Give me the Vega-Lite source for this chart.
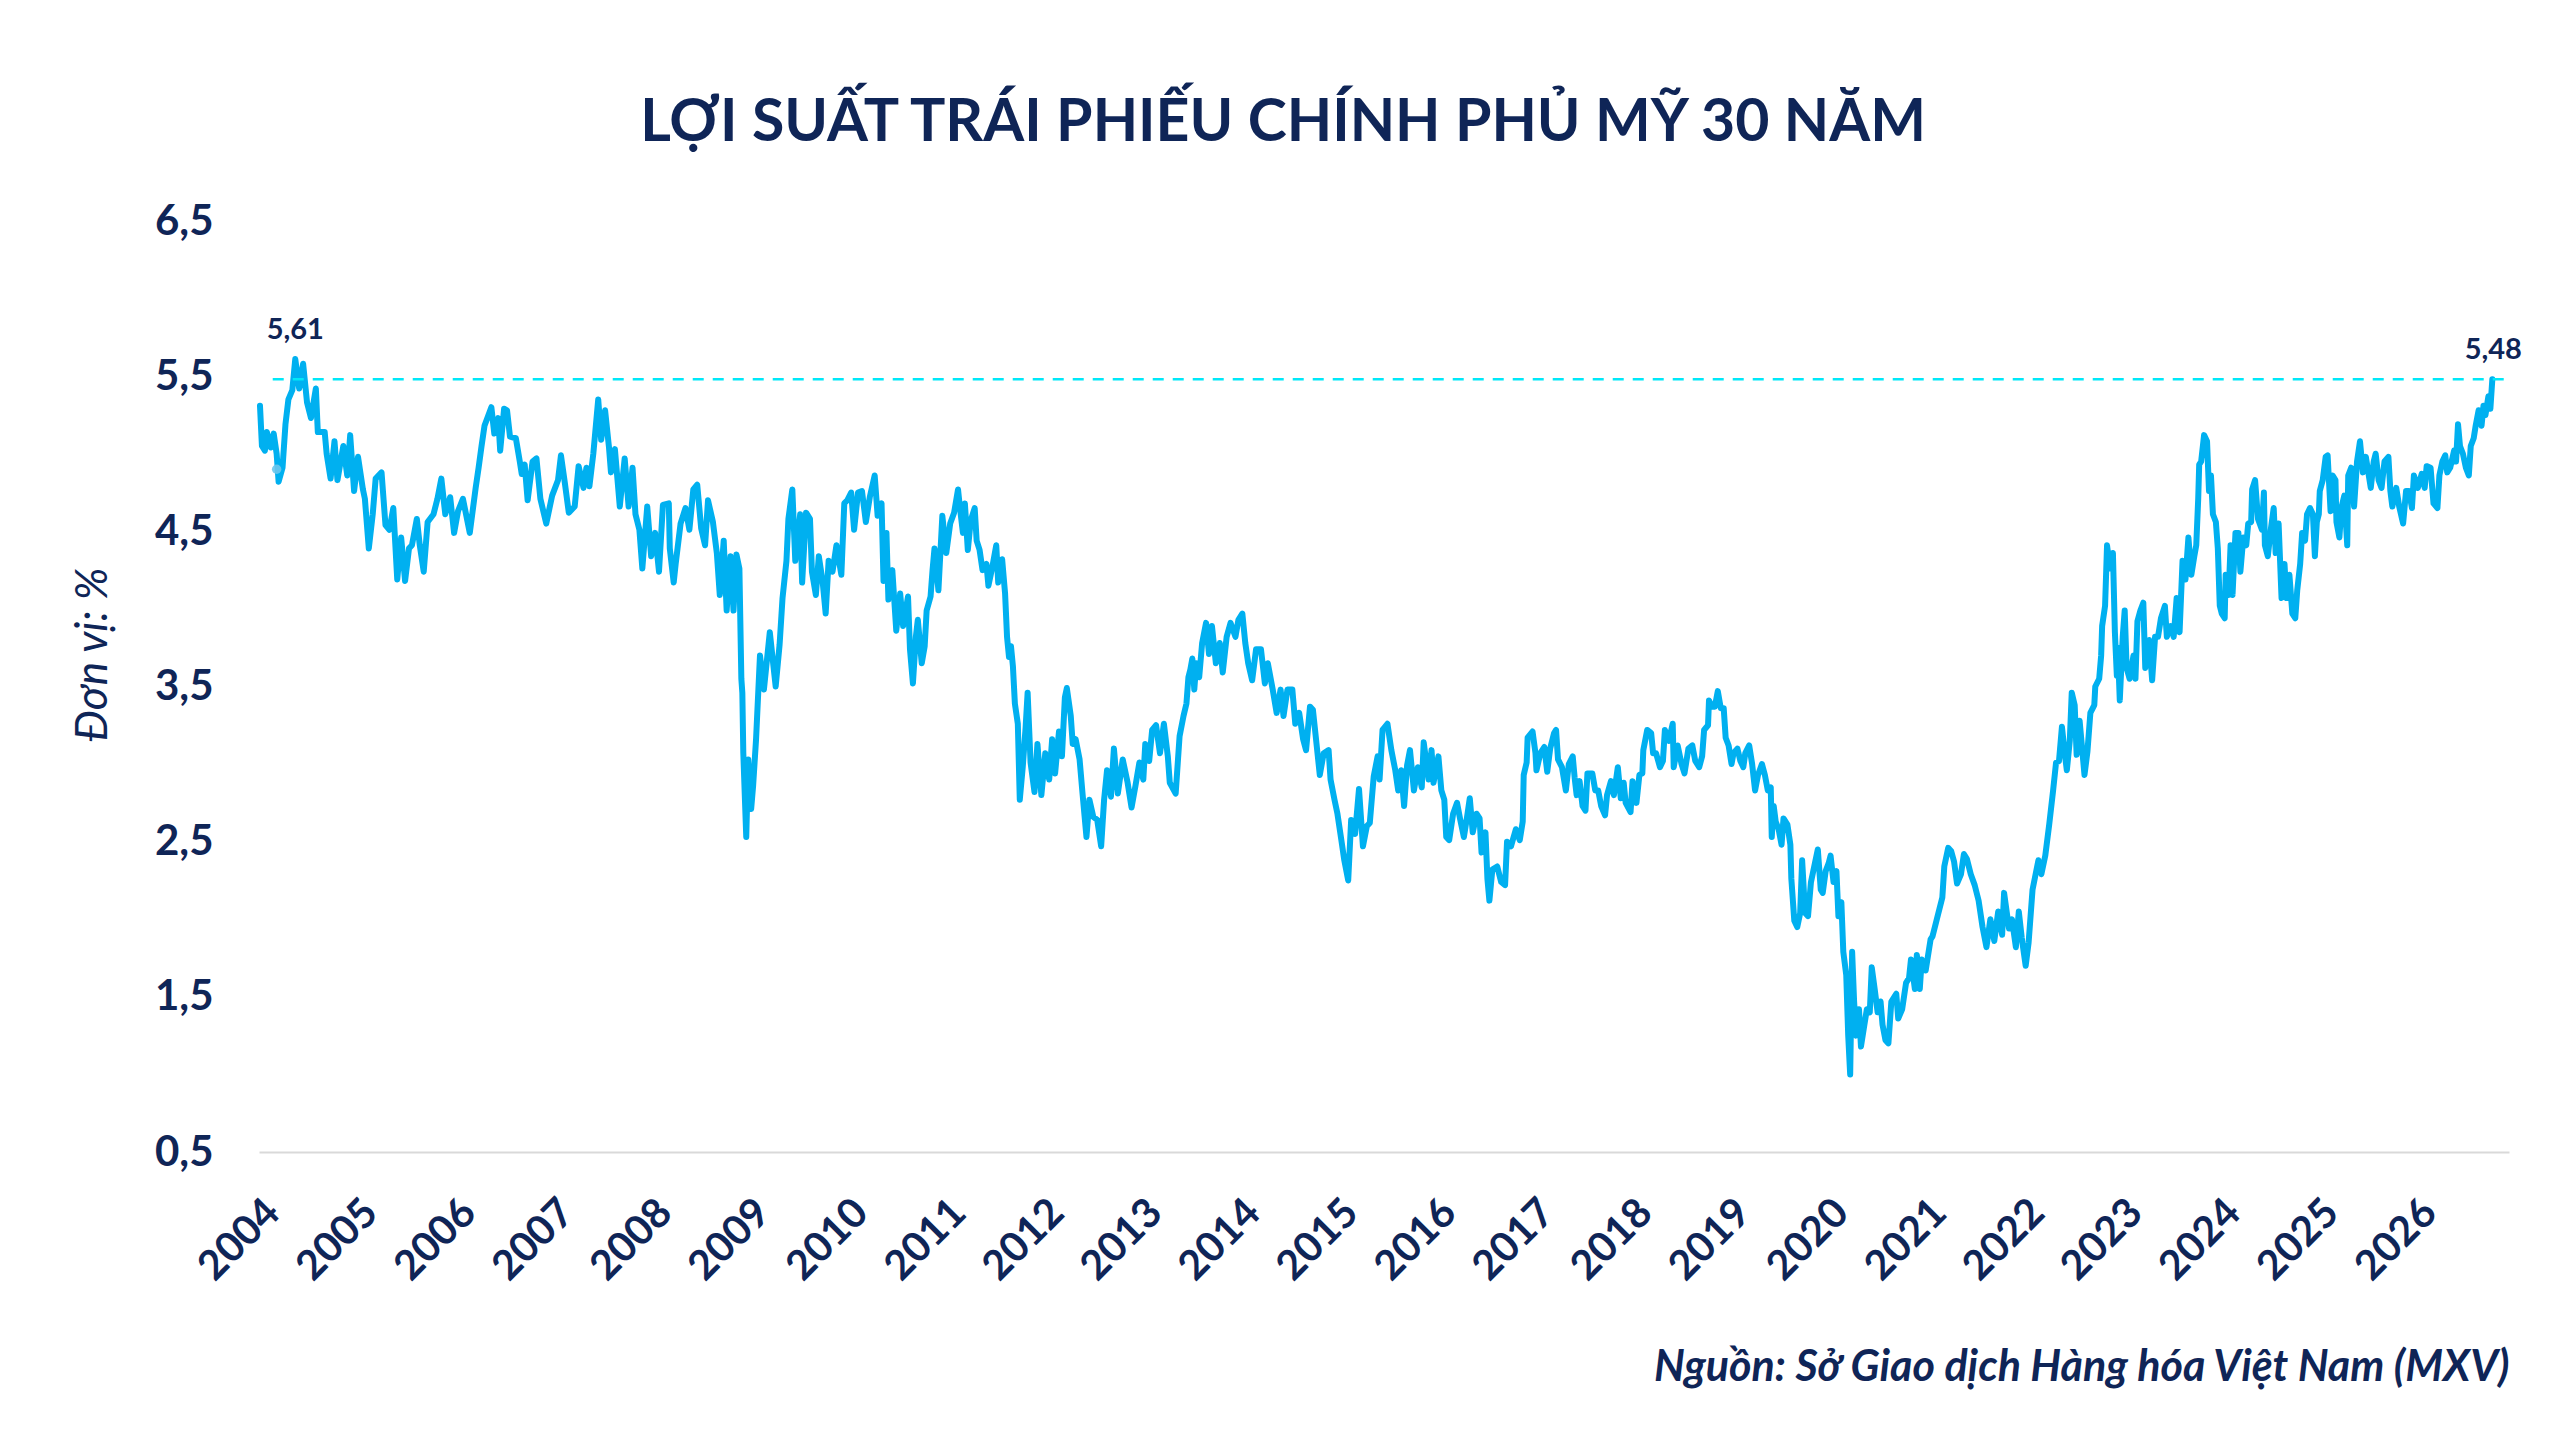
{
  "$schema": "https://vega.github.io/schema/vega-lite/v6.json",
  "width": 2250,
  "height": 931,
  "autosize": {"type": "none"},
  "padding": {"left": 259, "top": 221, "right": 50, "bottom": 288},
  "background": "white",
  "config": {"font": "Lato", "view": {"stroke": null}},
  "title": {
    "text": "LỢI SUẤT TRÁI PHIẾU CHÍNH PHỦ MỸ 30 NĂM",
    "fontSize": 59,
    "fontWeight": "bold",
    "color": "#0f2557",
    "anchor": "middle",
    "dx": -101,
    "offset": 47
  },
  "datasets": {
    "series": [
      {"t": 2004.01, "v": 5.31}, {"t": 2004.03, "v": 5.05}, {"t": 2004.06, "v": 5.02}, {"t": 2004.08, "v": 5.14}, {"t": 2004.12, "v": 5.04},
      {"t": 2004.15, "v": 5.13}, {"t": 2004.18, "v": 5.0}, {"t": 2004.2, "v": 4.82}, {"t": 2004.24, "v": 4.91}, {"t": 2004.27, "v": 5.19},
      {"t": 2004.3, "v": 5.35}, {"t": 2004.34, "v": 5.41}, {"t": 2004.37, "v": 5.61}, {"t": 2004.41, "v": 5.42}, {"t": 2004.45, "v": 5.58},
      {"t": 2004.49, "v": 5.33}, {"t": 2004.53, "v": 5.23}, {"t": 2004.58, "v": 5.42}, {"t": 2004.6, "v": 5.14}, {"t": 2004.67, "v": 5.14},
      {"t": 2004.69, "v": 5.0}, {"t": 2004.73, "v": 4.84}, {"t": 2004.77, "v": 5.08}, {"t": 2004.8, "v": 4.83}, {"t": 2004.86, "v": 5.05},
      {"t": 2004.9, "v": 4.86}, {"t": 2004.93, "v": 5.12}, {"t": 2004.97, "v": 4.76}, {"t": 2005.01, "v": 4.98}, {"t": 2005.06, "v": 4.77},
      {"t": 2005.08, "v": 4.71}, {"t": 2005.12, "v": 4.39}, {"t": 2005.16, "v": 4.61}, {"t": 2005.19, "v": 4.84}, {"t": 2005.25, "v": 4.88},
      {"t": 2005.29, "v": 4.54}, {"t": 2005.33, "v": 4.51}, {"t": 2005.37, "v": 4.65}, {"t": 2005.41, "v": 4.19}, {"t": 2005.45, "v": 4.46},
      {"t": 2005.49, "v": 4.18}, {"t": 2005.53, "v": 4.39}, {"t": 2005.56, "v": 4.41}, {"t": 2005.61, "v": 4.58}, {"t": 2005.64, "v": 4.41},
      {"t": 2005.68, "v": 4.24}, {"t": 2005.72, "v": 4.56}, {"t": 2005.78, "v": 4.61}, {"t": 2005.82, "v": 4.71}, {"t": 2005.86, "v": 4.84},
      {"t": 2005.9, "v": 4.61}, {"t": 2005.95, "v": 4.72}, {"t": 2005.99, "v": 4.49}, {"t": 2006.03, "v": 4.63}, {"t": 2006.08, "v": 4.71},
      {"t": 2006.15, "v": 4.49}, {"t": 2006.21, "v": 4.78}, {"t": 2006.24, "v": 4.91}, {"t": 2006.27, "v": 5.05}, {"t": 2006.3, "v": 5.18},
      {"t": 2006.37, "v": 5.3}, {"t": 2006.4, "v": 5.13}, {"t": 2006.44, "v": 5.23}, {"t": 2006.46, "v": 5.02}, {"t": 2006.5, "v": 5.29},
      {"t": 2006.53, "v": 5.28}, {"t": 2006.56, "v": 5.11}, {"t": 2006.62, "v": 5.1}, {"t": 2006.66, "v": 4.95}, {"t": 2006.68, "v": 4.87},
      {"t": 2006.71, "v": 4.93}, {"t": 2006.74, "v": 4.7}, {"t": 2006.79, "v": 4.95}, {"t": 2006.83, "v": 4.97}, {"t": 2006.87, "v": 4.71},
      {"t": 2006.93, "v": 4.55}, {"t": 2006.99, "v": 4.73}, {"t": 2007.05, "v": 4.83}, {"t": 2007.08, "v": 4.99}, {"t": 2007.12, "v": 4.81},
      {"t": 2007.16, "v": 4.62}, {"t": 2007.22, "v": 4.66}, {"t": 2007.26, "v": 4.92}, {"t": 2007.31, "v": 4.78}, {"t": 2007.34, "v": 4.91},
      {"t": 2007.37, "v": 4.79}, {"t": 2007.41, "v": 5.0}, {"t": 2007.46, "v": 5.35}, {"t": 2007.49, "v": 5.09}, {"t": 2007.53, "v": 5.28},
      {"t": 2007.57, "v": 5.04}, {"t": 2007.59, "v": 4.88}, {"t": 2007.63, "v": 5.03}, {"t": 2007.68, "v": 4.66}, {"t": 2007.73, "v": 4.97},
      {"t": 2007.77, "v": 4.66}, {"t": 2007.81, "v": 4.91}, {"t": 2007.84, "v": 4.61}, {"t": 2007.88, "v": 4.51}, {"t": 2007.91, "v": 4.26},
      {"t": 2007.96, "v": 4.66}, {"t": 2008.0, "v": 4.34}, {"t": 2008.04, "v": 4.49}, {"t": 2008.08, "v": 4.24}, {"t": 2008.12, "v": 4.67},
      {"t": 2008.18, "v": 4.68}, {"t": 2008.19, "v": 4.39}, {"t": 2008.23, "v": 4.17}, {"t": 2008.25, "v": 4.29}, {"t": 2008.3, "v": 4.55},
      {"t": 2008.35, "v": 4.65}, {"t": 2008.39, "v": 4.51}, {"t": 2008.43, "v": 4.77}, {"t": 2008.47, "v": 4.8}, {"t": 2008.51, "v": 4.52},
      {"t": 2008.55, "v": 4.41}, {"t": 2008.58, "v": 4.7}, {"t": 2008.63, "v": 4.56}, {"t": 2008.67, "v": 4.36}, {"t": 2008.7, "v": 4.09},
      {"t": 2008.74, "v": 4.44}, {"t": 2008.77, "v": 3.99}, {"t": 2008.81, "v": 4.34}, {"t": 2008.84, "v": 3.99}, {"t": 2008.87, "v": 4.35},
      {"t": 2008.9, "v": 4.26}, {"t": 2008.92, "v": 3.55}, {"t": 2008.93, "v": 3.46}, {"t": 2008.94, "v": 3.07}, {"t": 2008.97, "v": 2.53},
      {"t": 2008.99, "v": 3.03}, {"t": 2009.02, "v": 2.71}, {"t": 2009.04, "v": 2.86}, {"t": 2009.07, "v": 3.16}, {"t": 2009.11, "v": 3.7},
      {"t": 2009.15, "v": 3.48}, {"t": 2009.21, "v": 3.85}, {"t": 2009.27, "v": 3.5}, {"t": 2009.31, "v": 3.77}, {"t": 2009.34, "v": 4.07},
      {"t": 2009.38, "v": 4.31}, {"t": 2009.4, "v": 4.58}, {"t": 2009.44, "v": 4.77}, {"t": 2009.47, "v": 4.31}, {"t": 2009.52, "v": 4.61},
      {"t": 2009.54, "v": 4.17}, {"t": 2009.58, "v": 4.62}, {"t": 2009.62, "v": 4.58}, {"t": 2009.64, "v": 4.24}, {"t": 2009.68, "v": 4.09},
      {"t": 2009.71, "v": 4.34}, {"t": 2009.75, "v": 4.17}, {"t": 2009.78, "v": 3.97}, {"t": 2009.81, "v": 4.31}, {"t": 2009.85, "v": 4.24},
      {"t": 2009.89, "v": 4.41}, {"t": 2009.94, "v": 4.22}, {"t": 2009.97, "v": 4.68}, {"t": 2010.0, "v": 4.7}, {"t": 2010.04, "v": 4.75},
      {"t": 2010.07, "v": 4.51}, {"t": 2010.11, "v": 4.75}, {"t": 2010.15, "v": 4.76}, {"t": 2010.19, "v": 4.56}, {"t": 2010.23, "v": 4.72},
      {"t": 2010.28, "v": 4.86}, {"t": 2010.31, "v": 4.6}, {"t": 2010.35, "v": 4.68}, {"t": 2010.37, "v": 4.18}, {"t": 2010.4, "v": 4.49},
      {"t": 2010.42, "v": 4.06}, {"t": 2010.46, "v": 4.25}, {"t": 2010.5, "v": 3.86}, {"t": 2010.54, "v": 4.1}, {"t": 2010.57, "v": 3.89},
      {"t": 2010.62, "v": 4.08}, {"t": 2010.64, "v": 3.74}, {"t": 2010.67, "v": 3.52}, {"t": 2010.7, "v": 3.82}, {"t": 2010.72, "v": 3.93},
      {"t": 2010.76, "v": 3.65}, {"t": 2010.79, "v": 3.76}, {"t": 2010.81, "v": 3.99}, {"t": 2010.85, "v": 4.08}, {"t": 2010.87, "v": 4.25},
      {"t": 2010.89, "v": 4.39}, {"t": 2010.93, "v": 4.12}, {"t": 2010.97, "v": 4.6}, {"t": 2011.01, "v": 4.36}, {"t": 2011.05, "v": 4.55},
      {"t": 2011.09, "v": 4.62}, {"t": 2011.13, "v": 4.77}, {"t": 2011.15, "v": 4.65}, {"t": 2011.18, "v": 4.49}, {"t": 2011.2, "v": 4.68},
      {"t": 2011.23, "v": 4.38}, {"t": 2011.26, "v": 4.57}, {"t": 2011.3, "v": 4.65}, {"t": 2011.32, "v": 4.44}, {"t": 2011.35, "v": 4.38},
      {"t": 2011.38, "v": 4.25}, {"t": 2011.42, "v": 4.29}, {"t": 2011.44, "v": 4.15}, {"t": 2011.48, "v": 4.27}, {"t": 2011.52, "v": 4.41},
      {"t": 2011.54, "v": 4.17}, {"t": 2011.58, "v": 4.32}, {"t": 2011.61, "v": 4.1}, {"t": 2011.63, "v": 3.82}, {"t": 2011.65, "v": 3.69},
      {"t": 2011.67, "v": 3.76}, {"t": 2011.69, "v": 3.63}, {"t": 2011.71, "v": 3.39}, {"t": 2011.74, "v": 3.26}, {"t": 2011.76, "v": 2.77},
      {"t": 2011.79, "v": 2.98}, {"t": 2011.82, "v": 3.24}, {"t": 2011.84, "v": 3.46}, {"t": 2011.87, "v": 3.01}, {"t": 2011.91, "v": 2.82},
      {"t": 2011.94, "v": 3.13}, {"t": 2011.98, "v": 2.8}, {"t": 2012.02, "v": 3.07}, {"t": 2012.06, "v": 2.9}, {"t": 2012.09, "v": 3.16},
      {"t": 2012.12, "v": 2.94}, {"t": 2012.16, "v": 3.21}, {"t": 2012.19, "v": 3.05}, {"t": 2012.22, "v": 3.43}, {"t": 2012.24, "v": 3.49},
      {"t": 2012.28, "v": 3.31}, {"t": 2012.3, "v": 3.13}, {"t": 2012.33, "v": 3.16}, {"t": 2012.37, "v": 3.03}, {"t": 2012.4, "v": 2.81},
      {"t": 2012.44, "v": 2.53}, {"t": 2012.47, "v": 2.77}, {"t": 2012.51, "v": 2.66}, {"t": 2012.55, "v": 2.64}, {"t": 2012.59, "v": 2.47},
      {"t": 2012.62, "v": 2.77}, {"t": 2012.65, "v": 2.96}, {"t": 2012.69, "v": 2.79}, {"t": 2012.72, "v": 3.1}, {"t": 2012.76, "v": 2.81},
      {"t": 2012.81, "v": 3.03}, {"t": 2012.86, "v": 2.88}, {"t": 2012.9, "v": 2.72}, {"t": 2012.94, "v": 2.86}, {"t": 2012.98, "v": 3.01},
      {"t": 2013.02, "v": 2.9}, {"t": 2013.04, "v": 3.13}, {"t": 2013.08, "v": 3.02}, {"t": 2013.11, "v": 3.22}, {"t": 2013.15, "v": 3.25},
      {"t": 2013.19, "v": 3.07}, {"t": 2013.23, "v": 3.26}, {"t": 2013.27, "v": 3.05}, {"t": 2013.29, "v": 2.88}, {"t": 2013.35, "v": 2.81},
      {"t": 2013.39, "v": 3.18}, {"t": 2013.43, "v": 3.31}, {"t": 2013.46, "v": 3.39}, {"t": 2013.48, "v": 3.56}, {"t": 2013.5, "v": 3.61},
      {"t": 2013.52, "v": 3.68}, {"t": 2013.54, "v": 3.48}, {"t": 2013.56, "v": 3.65}, {"t": 2013.59, "v": 3.56}, {"t": 2013.62, "v": 3.78},
      {"t": 2013.66, "v": 3.91}, {"t": 2013.69, "v": 3.71}, {"t": 2013.72, "v": 3.89}, {"t": 2013.76, "v": 3.65}, {"t": 2013.8, "v": 3.78},
      {"t": 2013.83, "v": 3.59}, {"t": 2013.87, "v": 3.82}, {"t": 2013.91, "v": 3.91}, {"t": 2013.96, "v": 3.82}, {"t": 2013.99, "v": 3.93},
      {"t": 2014.03, "v": 3.97}, {"t": 2014.06, "v": 3.78}, {"t": 2014.09, "v": 3.65}, {"t": 2014.13, "v": 3.54}, {"t": 2014.17, "v": 3.74},
      {"t": 2014.22, "v": 3.74}, {"t": 2014.26, "v": 3.52}, {"t": 2014.29, "v": 3.65}, {"t": 2014.34, "v": 3.48}, {"t": 2014.38, "v": 3.33},
      {"t": 2014.42, "v": 3.48}, {"t": 2014.45, "v": 3.31}, {"t": 2014.49, "v": 3.48}, {"t": 2014.54, "v": 3.48}, {"t": 2014.57, "v": 3.26},
      {"t": 2014.61, "v": 3.33}, {"t": 2014.65, "v": 3.16}, {"t": 2014.68, "v": 3.09}, {"t": 2014.72, "v": 3.37}, {"t": 2014.75, "v": 3.35},
      {"t": 2014.79, "v": 3.11}, {"t": 2014.82, "v": 2.93}, {"t": 2014.86, "v": 3.07}, {"t": 2014.91, "v": 3.09}, {"t": 2014.93, "v": 2.9},
      {"t": 2014.97, "v": 2.77}, {"t": 2015.0, "v": 2.68}, {"t": 2015.04, "v": 2.51}, {"t": 2015.07, "v": 2.38}, {"t": 2015.11, "v": 2.25},
      {"t": 2015.14, "v": 2.64}, {"t": 2015.18, "v": 2.55}, {"t": 2015.22, "v": 2.84}, {"t": 2015.26, "v": 2.47}, {"t": 2015.3, "v": 2.6},
      {"t": 2015.33, "v": 2.62}, {"t": 2015.37, "v": 2.92}, {"t": 2015.41, "v": 3.05}, {"t": 2015.43, "v": 2.9}, {"t": 2015.46, "v": 3.22},
      {"t": 2015.51, "v": 3.26}, {"t": 2015.55, "v": 3.09}, {"t": 2015.59, "v": 2.96}, {"t": 2015.62, "v": 2.83}, {"t": 2015.65, "v": 2.96},
      {"t": 2015.68, "v": 2.73}, {"t": 2015.71, "v": 2.99}, {"t": 2015.74, "v": 3.09}, {"t": 2015.78, "v": 2.83}, {"t": 2015.82, "v": 2.98},
      {"t": 2015.86, "v": 2.85}, {"t": 2015.88, "v": 3.14}, {"t": 2015.93, "v": 2.9}, {"t": 2015.96, "v": 3.09}, {"t": 2015.98, "v": 2.88},
      {"t": 2016.03, "v": 3.05}, {"t": 2016.06, "v": 2.83}, {"t": 2016.09, "v": 2.77}, {"t": 2016.11, "v": 2.53}, {"t": 2016.14, "v": 2.51},
      {"t": 2016.18, "v": 2.68}, {"t": 2016.22, "v": 2.75}, {"t": 2016.25, "v": 2.65}, {"t": 2016.29, "v": 2.53}, {"t": 2016.32, "v": 2.65},
      {"t": 2016.35, "v": 2.78}, {"t": 2016.38, "v": 2.56}, {"t": 2016.42, "v": 2.68}, {"t": 2016.45, "v": 2.65}, {"t": 2016.47, "v": 2.43},
      {"t": 2016.51, "v": 2.56}, {"t": 2016.53, "v": 2.26}, {"t": 2016.55, "v": 2.12}, {"t": 2016.58, "v": 2.32}, {"t": 2016.63, "v": 2.34},
      {"t": 2016.67, "v": 2.24}, {"t": 2016.71, "v": 2.22}, {"t": 2016.73, "v": 2.5}, {"t": 2016.77, "v": 2.47}, {"t": 2016.82, "v": 2.58},
      {"t": 2016.86, "v": 2.51}, {"t": 2016.89, "v": 2.63}, {"t": 2016.9, "v": 2.93}, {"t": 2016.93, "v": 3.01}, {"t": 2016.94, "v": 3.17},
      {"t": 2016.99, "v": 3.21}, {"t": 2017.02, "v": 3.07}, {"t": 2017.03, "v": 2.96}, {"t": 2017.07, "v": 3.07}, {"t": 2017.11, "v": 3.11},
      {"t": 2017.14, "v": 2.95}, {"t": 2017.17, "v": 3.1}, {"t": 2017.21, "v": 3.2}, {"t": 2017.23, "v": 3.22}, {"t": 2017.25, "v": 3.03},
      {"t": 2017.29, "v": 2.98}, {"t": 2017.33, "v": 2.83}, {"t": 2017.36, "v": 3.0}, {"t": 2017.4, "v": 3.05}, {"t": 2017.42, "v": 2.91},
      {"t": 2017.44, "v": 2.8}, {"t": 2017.47, "v": 2.89}, {"t": 2017.5, "v": 2.73}, {"t": 2017.53, "v": 2.7}, {"t": 2017.55, "v": 2.94},
      {"t": 2017.6, "v": 2.94}, {"t": 2017.63, "v": 2.83}, {"t": 2017.66, "v": 2.83}, {"t": 2017.69, "v": 2.73}, {"t": 2017.73, "v": 2.67},
      {"t": 2017.75, "v": 2.8}, {"t": 2017.79, "v": 2.89}, {"t": 2017.82, "v": 2.8}, {"t": 2017.86, "v": 2.98}, {"t": 2017.89, "v": 2.78},
      {"t": 2017.92, "v": 2.88}, {"t": 2017.94, "v": 2.75}, {"t": 2017.99, "v": 2.69}, {"t": 2018.01, "v": 2.89}, {"t": 2018.05, "v": 2.75},
      {"t": 2018.08, "v": 2.93}, {"t": 2018.11, "v": 2.94}, {"t": 2018.12, "v": 3.09}, {"t": 2018.16, "v": 3.22}, {"t": 2018.2, "v": 3.2},
      {"t": 2018.22, "v": 3.07}, {"t": 2018.25, "v": 3.07}, {"t": 2018.29, "v": 2.98}, {"t": 2018.32, "v": 3.02}, {"t": 2018.34, "v": 3.22},
      {"t": 2018.38, "v": 3.15}, {"t": 2018.42, "v": 3.26}, {"t": 2018.43, "v": 2.98}, {"t": 2018.47, "v": 3.12}, {"t": 2018.51, "v": 3.0},
      {"t": 2018.54, "v": 2.94}, {"t": 2018.58, "v": 3.1}, {"t": 2018.62, "v": 3.12}, {"t": 2018.65, "v": 3.02}, {"t": 2018.69, "v": 2.98},
      {"t": 2018.72, "v": 3.05}, {"t": 2018.74, "v": 3.22}, {"t": 2018.78, "v": 3.25}, {"t": 2018.79, "v": 3.41}, {"t": 2018.82, "v": 3.37},
      {"t": 2018.85, "v": 3.37}, {"t": 2018.88, "v": 3.47}, {"t": 2018.91, "v": 3.36}, {"t": 2018.94, "v": 3.36}, {"t": 2018.96, "v": 3.17},
      {"t": 2018.99, "v": 3.12}, {"t": 2019.02, "v": 3.0}, {"t": 2019.04, "v": 3.07}, {"t": 2019.08, "v": 3.1}, {"t": 2019.11, "v": 3.02},
      {"t": 2019.14, "v": 2.98}, {"t": 2019.16, "v": 3.07}, {"t": 2019.2, "v": 3.12}, {"t": 2019.23, "v": 3.0}, {"t": 2019.26, "v": 2.83},
      {"t": 2019.29, "v": 2.93}, {"t": 2019.33, "v": 3.0}, {"t": 2019.36, "v": 2.93}, {"t": 2019.39, "v": 2.83}, {"t": 2019.42, "v": 2.85},
      {"t": 2019.43, "v": 2.53}, {"t": 2019.45, "v": 2.73}, {"t": 2019.47, "v": 2.63}, {"t": 2019.5, "v": 2.58}, {"t": 2019.53, "v": 2.48},
      {"t": 2019.55, "v": 2.65}, {"t": 2019.59, "v": 2.61}, {"t": 2019.62, "v": 2.48}, {"t": 2019.63, "v": 2.26}, {"t": 2019.66, "v": 1.99},
      {"t": 2019.69, "v": 1.95}, {"t": 2019.72, "v": 2.04}, {"t": 2019.74, "v": 2.38}, {"t": 2019.77, "v": 2.04}, {"t": 2019.8, "v": 2.02},
      {"t": 2019.83, "v": 2.24}, {"t": 2019.87, "v": 2.36}, {"t": 2019.9, "v": 2.45}, {"t": 2019.93, "v": 2.19}, {"t": 2019.95, "v": 2.17},
      {"t": 2019.98, "v": 2.31}, {"t": 2020.01, "v": 2.36}, {"t": 2020.03, "v": 2.41}, {"t": 2020.06, "v": 2.24}, {"t": 2020.09, "v": 2.31},
      {"t": 2020.11, "v": 2.02}, {"t": 2020.14, "v": 2.11}, {"t": 2020.16, "v": 1.79}, {"t": 2020.19, "v": 1.64}, {"t": 2020.21, "v": 1.25},
      {"t": 2020.23, "v": 1.0}, {"t": 2020.25, "v": 1.79}, {"t": 2020.27, "v": 1.47}, {"t": 2020.29, "v": 1.25}, {"t": 2020.32, "v": 1.42},
      {"t": 2020.34, "v": 1.18}, {"t": 2020.37, "v": 1.3}, {"t": 2020.4, "v": 1.42}, {"t": 2020.43, "v": 1.4}, {"t": 2020.45, "v": 1.69},
      {"t": 2020.48, "v": 1.55}, {"t": 2020.51, "v": 1.4}, {"t": 2020.54, "v": 1.47}, {"t": 2020.56, "v": 1.32}, {"t": 2020.59, "v": 1.22},
      {"t": 2020.62, "v": 1.2}, {"t": 2020.65, "v": 1.47}, {"t": 2020.7, "v": 1.52}, {"t": 2020.72, "v": 1.36}, {"t": 2020.76, "v": 1.42},
      {"t": 2020.8, "v": 1.59}, {"t": 2020.83, "v": 1.62}, {"t": 2020.85, "v": 1.74}, {"t": 2020.89, "v": 1.55}, {"t": 2020.91, "v": 1.77},
      {"t": 2020.94, "v": 1.55}, {"t": 2020.96, "v": 1.74}, {"t": 2021.0, "v": 1.67}, {"t": 2021.05, "v": 1.87}, {"t": 2021.07, "v": 1.89},
      {"t": 2021.11, "v": 1.99}, {"t": 2021.17, "v": 2.14}, {"t": 2021.19, "v": 2.34}, {"t": 2021.23, "v": 2.46}, {"t": 2021.26, "v": 2.44},
      {"t": 2021.29, "v": 2.37}, {"t": 2021.32, "v": 2.23}, {"t": 2021.36, "v": 2.29}, {"t": 2021.39, "v": 2.42}, {"t": 2021.42, "v": 2.39},
      {"t": 2021.46, "v": 2.29}, {"t": 2021.5, "v": 2.22}, {"t": 2021.54, "v": 2.12}, {"t": 2021.58, "v": 1.95}, {"t": 2021.62, "v": 1.82},
      {"t": 2021.66, "v": 2.0}, {"t": 2021.7, "v": 1.86}, {"t": 2021.74, "v": 2.05}, {"t": 2021.78, "v": 1.9}, {"t": 2021.8, "v": 2.17},
      {"t": 2021.85, "v": 1.94}, {"t": 2021.88, "v": 2.0}, {"t": 2021.92, "v": 1.82}, {"t": 2021.95, "v": 2.05}, {"t": 2021.98, "v": 1.88},
      {"t": 2022.02, "v": 1.7}, {"t": 2022.05, "v": 1.85}, {"t": 2022.09, "v": 2.19}, {"t": 2022.15, "v": 2.38}, {"t": 2022.18, "v": 2.29},
      {"t": 2022.22, "v": 2.41}, {"t": 2022.26, "v": 2.61}, {"t": 2022.3, "v": 2.83}, {"t": 2022.33, "v": 3.01}, {"t": 2022.36, "v": 3.02},
      {"t": 2022.39, "v": 3.24}, {"t": 2022.42, "v": 3.06}, {"t": 2022.44, "v": 2.96}, {"t": 2022.47, "v": 3.15}, {"t": 2022.49, "v": 3.46},
      {"t": 2022.52, "v": 3.38}, {"t": 2022.54, "v": 3.06}, {"t": 2022.57, "v": 3.28}, {"t": 2022.62, "v": 2.93}, {"t": 2022.65, "v": 3.08},
      {"t": 2022.68, "v": 3.33}, {"t": 2022.72, "v": 3.38}, {"t": 2022.73, "v": 3.5}, {"t": 2022.77, "v": 3.55}, {"t": 2022.79, "v": 3.7},
      {"t": 2022.8, "v": 3.89}, {"t": 2022.83, "v": 4.02}, {"t": 2022.85, "v": 4.41}, {"t": 2022.88, "v": 4.26}, {"t": 2022.91, "v": 4.36},
      {"t": 2022.93, "v": 3.85}, {"t": 2022.95, "v": 3.57}, {"t": 2022.96, "v": 3.75}, {"t": 2022.98, "v": 3.41}, {"t": 2023.01, "v": 3.82},
      {"t": 2023.03, "v": 3.99}, {"t": 2023.05, "v": 3.62}, {"t": 2023.08, "v": 3.55}, {"t": 2023.12, "v": 3.7}, {"t": 2023.14, "v": 3.55},
      {"t": 2023.16, "v": 3.92}, {"t": 2023.19, "v": 3.99}, {"t": 2023.22, "v": 4.04}, {"t": 2023.24, "v": 3.62}, {"t": 2023.28, "v": 3.8},
      {"t": 2023.31, "v": 3.54}, {"t": 2023.34, "v": 3.82}, {"t": 2023.37, "v": 3.82}, {"t": 2023.4, "v": 3.94}, {"t": 2023.44, "v": 4.02},
      {"t": 2023.46, "v": 3.82}, {"t": 2023.5, "v": 3.89}, {"t": 2023.53, "v": 3.82}, {"t": 2023.56, "v": 4.07}, {"t": 2023.59, "v": 3.85},
      {"t": 2023.62, "v": 4.31}, {"t": 2023.65, "v": 4.19}, {"t": 2023.68, "v": 4.46}, {"t": 2023.71, "v": 4.22}, {"t": 2023.74, "v": 4.34},
      {"t": 2023.76, "v": 4.41}, {"t": 2023.78, "v": 4.71}, {"t": 2023.79, "v": 4.93}, {"t": 2023.81, "v": 4.95}, {"t": 2023.84, "v": 5.12},
      {"t": 2023.87, "v": 5.08}, {"t": 2023.89, "v": 4.76}, {"t": 2023.91, "v": 4.86}, {"t": 2023.93, "v": 4.61}, {"t": 2023.96, "v": 4.56},
      {"t": 2023.98, "v": 4.39}, {"t": 2024.0, "v": 4.02}, {"t": 2024.02, "v": 3.97}, {"t": 2024.05, "v": 3.94}, {"t": 2024.06, "v": 4.22},
      {"t": 2024.09, "v": 4.09}, {"t": 2024.11, "v": 4.41}, {"t": 2024.13, "v": 4.09}, {"t": 2024.16, "v": 4.49}, {"t": 2024.19, "v": 4.49},
      {"t": 2024.21, "v": 4.24}, {"t": 2024.24, "v": 4.46}, {"t": 2024.27, "v": 4.41}, {"t": 2024.29, "v": 4.55}, {"t": 2024.32, "v": 4.56},
      {"t": 2024.33, "v": 4.77}, {"t": 2024.36, "v": 4.83}, {"t": 2024.39, "v": 4.58}, {"t": 2024.43, "v": 4.51}, {"t": 2024.45, "v": 4.75},
      {"t": 2024.46, "v": 4.41}, {"t": 2024.49, "v": 4.34}, {"t": 2024.52, "v": 4.51}, {"t": 2024.55, "v": 4.65}, {"t": 2024.57, "v": 4.36},
      {"t": 2024.6, "v": 4.55}, {"t": 2024.63, "v": 4.07}, {"t": 2024.66, "v": 4.29}, {"t": 2024.68, "v": 4.07}, {"t": 2024.71, "v": 4.22},
      {"t": 2024.74, "v": 3.97}, {"t": 2024.77, "v": 3.94}, {"t": 2024.79, "v": 4.12}, {"t": 2024.82, "v": 4.29}, {"t": 2024.84, "v": 4.49},
      {"t": 2024.87, "v": 4.44}, {"t": 2024.89, "v": 4.61}, {"t": 2024.92, "v": 4.65}, {"t": 2024.95, "v": 4.61}, {"t": 2024.97, "v": 4.34},
      {"t": 2024.99, "v": 4.56}, {"t": 2025.01, "v": 4.61}, {"t": 2025.02, "v": 4.76}, {"t": 2025.05, "v": 4.83}, {"t": 2025.08, "v": 4.98},
      {"t": 2025.1, "v": 4.99}, {"t": 2025.13, "v": 4.63}, {"t": 2025.15, "v": 4.86}, {"t": 2025.18, "v": 4.83}, {"t": 2025.19, "v": 4.56},
      {"t": 2025.22, "v": 4.46}, {"t": 2025.24, "v": 4.65}, {"t": 2025.27, "v": 4.73}, {"t": 2025.3, "v": 4.41}, {"t": 2025.31, "v": 4.86},
      {"t": 2025.34, "v": 4.91}, {"t": 2025.37, "v": 4.66}, {"t": 2025.4, "v": 4.95}, {"t": 2025.43, "v": 5.08}, {"t": 2025.46, "v": 4.88},
      {"t": 2025.49, "v": 4.98}, {"t": 2025.52, "v": 4.86}, {"t": 2025.54, "v": 4.78}, {"t": 2025.57, "v": 4.95}, {"t": 2025.59, "v": 5.0},
      {"t": 2025.62, "v": 4.83}, {"t": 2025.65, "v": 4.78}, {"t": 2025.68, "v": 4.95}, {"t": 2025.72, "v": 4.98}, {"t": 2025.74, "v": 4.76},
      {"t": 2025.76, "v": 4.66}, {"t": 2025.8, "v": 4.78}, {"t": 2025.83, "v": 4.66}, {"t": 2025.87, "v": 4.55}, {"t": 2025.9, "v": 4.76},
      {"t": 2025.93, "v": 4.76}, {"t": 2025.96, "v": 4.65}, {"t": 2025.98, "v": 4.86}, {"t": 2026.02, "v": 4.78}, {"t": 2026.06, "v": 4.87},
      {"t": 2026.09, "v": 4.78}, {"t": 2026.11, "v": 4.92}, {"t": 2026.15, "v": 4.91}, {"t": 2026.18, "v": 4.68}, {"t": 2026.22, "v": 4.65},
      {"t": 2026.24, "v": 4.86}, {"t": 2026.27, "v": 4.95}, {"t": 2026.3, "v": 4.99}, {"t": 2026.32, "v": 4.88}, {"t": 2026.35, "v": 4.91},
      {"t": 2026.39, "v": 5.02}, {"t": 2026.41, "v": 4.95}, {"t": 2026.43, "v": 5.19}, {"t": 2026.45, "v": 5.05}, {"t": 2026.48, "v": 5.0},
      {"t": 2026.51, "v": 4.91}, {"t": 2026.54, "v": 4.86}, {"t": 2026.56, "v": 5.05}, {"t": 2026.59, "v": 5.1}, {"t": 2026.61, "v": 5.18},
      {"t": 2026.64, "v": 5.28}, {"t": 2026.67, "v": 5.18}, {"t": 2026.69, "v": 5.31}, {"t": 2026.71, "v": 5.25}, {"t": 2026.74, "v": 5.37},
      {"t": 2026.76, "v": 5.29}, {"t": 2026.78, "v": 5.48}
    ],
    "labels": [
      {"t": 2004.37, "v": 5.61, "label": "5,61"},
      {"t": 2026.79, "v": 5.48, "label": "5,48"}
    ],
    "level": [
      {"t": 2004.14, "t2": 2026.94, "v": 5.48}
    ],
    "marker": [
      {"t": 2004.18, "v": 4.9}
    ]
  },
  "layer": [
    {
      "data": {"name": "series"},
      "mark": {"type": "line", "color": "#00b0f0", "strokeWidth": 6, "strokeJoin": "round", "strokeCap": "round"},
      "encoding": {
        "x": {
          "field": "t",
          "type": "quantitative",
          "scale": {"domain": [2004, 2026.95], "nice": false, "zero": false},
          "axis": {
            "values": [2004, 2005, 2006, 2007, 2008, 2009, 2010, 2011, 2012, 2013, 2014, 2015, 2016, 2017, 2018, 2019, 2020, 2021, 2022, 2023, 2024, 2025, 2026],
            "format": "d",
            "labelAngle": -45,
            "labelFontSize": 41,
            "labelFontWeight": "bold",
            "labelColor": "#0f2557",
            "labelPadding": 40,
            "labelOverlap": false,
            "labelBound": false,
            "labelFlush": false,
            "ticks": false,
            "grid": false,
            "domainColor": "#d9d9d9",
            "domainWidth": 2,
            "title": "Nguồn: Sở Giao dịch Hàng hóa Việt Nam (MXV)",
            "titleFontSize": 43,
            "titleFontStyle": "italic",
            "titleFontWeight": "bold",
            "titleColor": "#0f2557",
            "titleX": 2250,
            "titleY": 228,
            "titleAlign": "right",
            "titleBaseline": "alphabetic"
          }
        },
        "y": {
          "field": "v",
          "type": "quantitative",
          "scale": {"domain": [0.5, 6.5], "nice": false, "zero": false},
          "axis": {
            "values": [0.5, 1.5, 2.5, 3.5, 4.5, 5.5, 6.5],
            "labelExpr": "replace(format(datum.value, '.1f'), '.', ',')",
            "labelFontSize": 42,
            "labelFontWeight": "bold",
            "labelColor": "#0f2557",
            "labelPadding": 46,
            "ticks": false,
            "domain": false,
            "grid": false,
            "title": "Đơn vị: %",
            "titleFontSize": 44,
            "titleFontStyle": "italic",
            "titleFontWeight": "normal",
            "titleColor": "#0f2557",
            "titleX": -166,
            "titleY": 433,
            "titleAngle": 270,
            "titleAlign": "center",
            "titleBaseline": "middle"
          }
        }
      }
    },
    {
      "data": {"name": "marker"},
      "mark": {"type": "circle", "size": 90, "color": "#6cc6ec", "opacity": 0.9},
      "encoding": {
        "x": {"field": "t", "type": "quantitative"},
        "y": {"field": "v", "type": "quantitative"}
      }
    },
    {
      "data": {"name": "level"},
      "mark": {"type": "rule", "color": "#00e8f8", "strokeWidth": 2.5, "strokeDash": [11, 9]},
      "encoding": {
        "x": {"field": "t", "type": "quantitative"},
        "x2": {"field": "t2"},
        "y": {"field": "v", "type": "quantitative"}
      }
    },
    {
      "data": {"name": "labels"},
      "mark": {"type": "text", "fontSize": 29, "fontWeight": "bold", "color": "#0f2557", "align": "center", "baseline": "alphabetic", "dy": -20},
      "encoding": {
        "x": {"field": "t", "type": "quantitative"},
        "y": {"field": "v", "type": "quantitative"},
        "text": {"field": "label"}
      }
    }
  ]
}
